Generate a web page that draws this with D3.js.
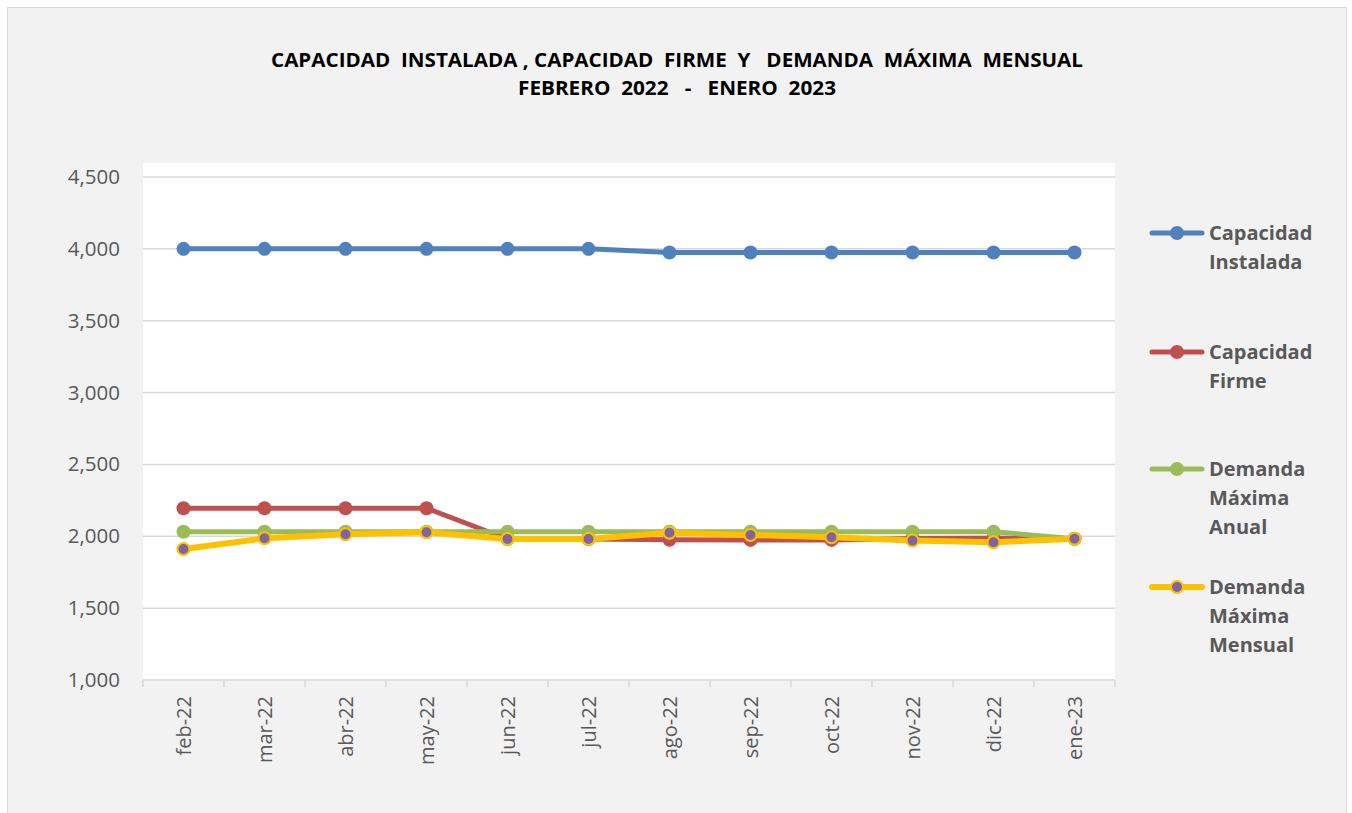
<!DOCTYPE html>
<html>
<head>
<meta charset="utf-8">
<script src="https://cdn.jsdelivr.net/npm/d3@7"></script>
<style>
  body { margin: 0; background: #ffffff; }
  text { font-family: "Open Sans", sans-serif; }
</style>
</head>
<body>
<div id="chart"></div>
<script>
// data
var months = ["feb-22", "mar-22", "abr-22", "may-22", "jun-22", "jul-22",
              "ago-22", "sep-22", "oct-22", "nov-22", "dic-22", "ene-23"];
var capInstalada = [4000, 4000, 4000, 4000, 4000, 4000, 3975, 3975, 3975, 3975, 3975, 3975];
var capFirme = [2195, 2195, 2195, 2195, 1981, 1981, 1976, 1975, 1975, 1985, 1987, 1983];
var demAnual = [2032, 2032, 2032, 2032, 2032, 2032, 2032, 2032, 2032, 2032, 2032, 1983];
var demMensual = [1911, 1986, 2014, 2028, 1981, 1981, 2025, 2009, 1993, 1970, 1958, 1983];
var yTicks = [1000, 1500, 2000, 2500, 3000, 3500, 4000, 4500];

var series = [
  {name: ["Capacidad", "Instalada"], values: capInstalada, color: "#4f81bd", fill: "#4f81bd", width: 5, legendY: 233},
  {name: ["Capacidad", "Firme"], values: capFirme, color: "#c0504d", fill: "#c0504d", width: 5, legendY: 352},
  {name: ["Demanda", "Máxima", "Anual"], values: demAnual, color: "#9bbb59", fill: "#9bbb59", width: 5, legendY: 469},
  {name: ["Demanda", "Máxima", "Mensual"], values: demMensual, color: "#ffc000", fill: "#8064a2", width: 6, legendY: 587}
];

var W = 1352, H = 813;
var plot = {left: 143, right: 1115, top: 163, bottom: 680};

var svg = d3.select("#chart").append("svg")
  .attr("width", W)
  .attr("height", H);

// chart background + border
svg.append("rect")
  .attr("x", 7.5).attr("y", 7.5)
  .attr("width", 1339).attr("height", 820)
  .style("fill", "#f2f2f2")
  .style("stroke", "#d9d9d9")
  .style("stroke-width", 1);

// plot area
svg.append("rect")
  .attr("x", plot.left).attr("y", plot.top)
  .attr("width", plot.right - plot.left).attr("height", plot.bottom - plot.top)
  .style("fill", "#ffffff");

// title
var title = svg.append("text")
  .attr("text-anchor", "middle")
  .style("font-weight", "bold")
  .style("font-size", "19px")
  .style("white-space", "pre")
  .style("fill", "#000");
title.append("tspan").attr("x", 677).attr("y", 67)
  .attr("textLength", 812).attr("lengthAdjust", "spacingAndGlyphs")
  .text("CAPACIDAD  INSTALADA , CAPACIDAD  FIRME  Y   DEMANDA  MÁXIMA  MENSUAL");
title.append("tspan").attr("x", 677).attr("y", 95)
  .attr("textLength", 318).attr("lengthAdjust", "spacingAndGlyphs")
  .text("FEBRERO  2022   -   ENERO  2023");

var xScale = d3.scaleBand()
  .domain(months)
  .range([plot.left, plot.right]);

var yScale = d3.scaleLinear()
  .domain([1000, 4500])
  .range([plot.bottom, 177]);

// gridlines
svg.append("g")
  .selectAll("line")
  .data(yTicks.slice(1))
  .enter().append("line")
  .attr("x1", plot.left).attr("x2", plot.right)
  .attr("y1", d => yScale(d)).attr("y2", d => yScale(d))
  .style("stroke", "#d9d9d9")
  .style("stroke-width", 1.5);

// y axis
var yAxis = d3.axisLeft(yScale)
  .tickValues(yTicks)
  .tickSize(0)
  .tickPadding(23)
  .tickFormat(d3.format(","));
var gy = svg.append("g")
  .attr("transform", "translate(" + plot.left + ",0)")
  .call(yAxis);
gy.select(".domain").remove();
gy.selectAll("text")
  .style("font-size", "20.5px")
  .style("font-family", "'Open Sans', sans-serif")
  .style("fill", "#595959");

// x axis line + ticks at the band edges
svg.append("line")
  .attr("x1", plot.left).attr("x2", plot.right)
  .attr("y1", plot.bottom).attr("y2", plot.bottom)
  .style("stroke", "#d9d9d9")
  .style("stroke-width", 1.5);
var edges = months.map(m => xScale(m)).concat([plot.right]);
svg.append("g").selectAll("line")
  .data(edges)
  .enter().append("line")
  .attr("x1", d => d).attr("x2", d => d)
  .attr("y1", plot.bottom).attr("y2", plot.bottom + 7)
  .style("stroke", "#d9d9d9")
  .style("stroke-width", 1.5);

// x labels (rotated)
svg.append("g").selectAll("text")
  .data(months)
  .enter().append("text")
  .attr("transform", d => "translate(" + (xScale(d) + xScale.bandwidth() / 2 + 7) + "," + (plot.bottom + 16) + ") rotate(-90)")
  .attr("text-anchor", "end")
  .style("font-size", "20px")
  .style("fill", "#595959")
  .text(d => d);

var line = d3.line()
  .x((d, i) => xScale(months[i]) + xScale.bandwidth() / 2)
  .y(d => yScale(d));

// lines
series.forEach(function(s) {
  svg.append("path")
    .datum(s.values)
    .attr("d", line)
    .style("fill", "none")
    .style("stroke", s.color)
    .style("stroke-width", s.width)
    .style("stroke-linejoin", "round")
    .style("stroke-linecap", "round");

  svg.append("g").selectAll("circle")
    .data(s.values)
    .enter().append("circle")
    .attr("cx", (d, i) => xScale(months[i]) + xScale.bandwidth() / 2)
    .attr("cy", d => yScale(d))
    .attr("r", s.fill === s.color ? 7 : 6)
    .style("fill", s.fill)
    .style("stroke", s.color)
    .style("stroke-width", s.fill === s.color ? 0 : 2);
});

// legend
series.forEach(function(s) {
  var g = svg.append("g");
  g.append("line")
    .attr("x1", 1152).attr("x2", 1202)
    .attr("y1", s.legendY).attr("y2", s.legendY)
    .style("stroke", s.color)
    .style("stroke-width", s.width)
    .style("stroke-linecap", "round");
  g.append("circle")
    .attr("cx", 1177).attr("cy", s.legendY)
    .attr("r", s.fill === s.color ? 7 : 6)
    .style("fill", s.fill)
    .style("stroke", s.color)
    .style("stroke-width", s.fill === s.color ? 0 : 2);
  var t = g.append("text")
    .style("font-size", "20px")
    .style("font-weight", "bold")
    .style("fill", "#595959");
  s.name.forEach(function(n, i) {
    t.append("tspan")
      .attr("x", 1209)
      .attr("y", s.legendY + 7 + i * 29)
      .text(n);
  });
});
</script>
</body>
</html>
